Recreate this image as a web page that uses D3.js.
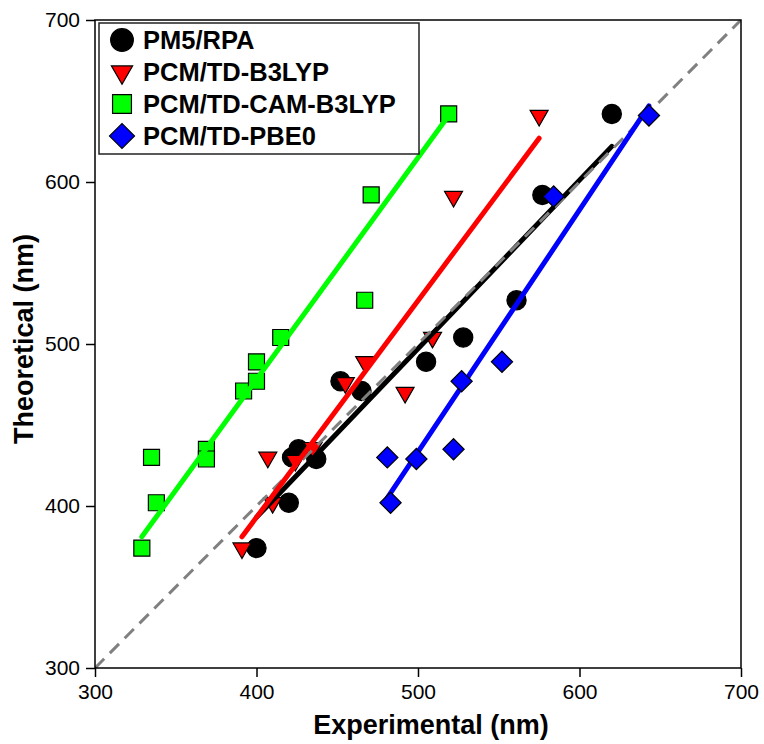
<!DOCTYPE html>
<html>
<head>
<meta charset="utf-8">
<script src="https://cdn.jsdelivr.net/npm/d3@7"></script>
<style>
  html, body { margin: 0; padding: 0; background: #fff; }
  svg { display: block; font-family: "Liberation Sans", Arial, sans-serif; }
</style>
</head>
<body>
<svg id="chart" width="764" height="744"></svg>
<script>
// experimental (x) / theoretical (y) pairs for each method
const pm5Exp  = [400, 420, 422, 426, 437, 452, 465, 505, 528, 561, 577, 620];
const pm5Theo = [374, 402, 430, 435, 429, 477, 471, 489, 504, 527, 592, 642];

const b3lypExp  = [391, 410, 407, 424, 435, 455, 467, 492, 509, 522, 575];
const b3lypTheo = [374, 402, 430, 428, 436, 476, 489, 470, 504, 591, 641];

const camExp  = [329, 338, 335, 369, 369, 392, 400, 400, 415, 467, 471, 519];
const camTheo = [374, 402, 430, 435, 429, 471, 477, 489, 504, 527, 592, 642];

const pbe0Exp  = [483, 481, 499, 522, 527, 552, 584, 643];
const pbe0Theo = [402, 430, 429, 435, 477, 489, 591, 641];

// linear fit lines: [x start, y start, x end, y end]
const pm5Fit   = [400, 393, 620, 622];
const b3lypFit = [391, 381, 575, 627];
const camFit   = [329, 381, 519, 641];
const pbe0Fit  = [481, 405, 643, 647];

const seriesNames = ["PM5/RPA", "PCM/TD-B3LYP", "PCM/TD-CAM-B3LYP", "PCM/TD-PBE0"];
const xTicks = [300, 400, 500, 600, 700];
const yTicks = [300, 400, 500, 600, 700];

const svg = d3.select("#chart");
const plotL = 95, plotR = 741, plotT = 20, plotB = 668;

const x = d3.scaleLinear().domain([300, 700]).range([plotL, plotR]);
const y = d3.scaleLinear().domain([300, 700]).range([plotB, plotT]);

const series = [
  { name: seriesNames[0], xs: pm5Exp, ys: pm5Theo, fit: pm5Fit, color: "#000000", shape: "circle" },
  { name: seriesNames[1], xs: b3lypExp, ys: b3lypTheo, fit: b3lypFit, color: "#ff0000", shape: "triangle" },
  { name: seriesNames[2], xs: camExp, ys: camTheo, fit: camFit, color: "#00ff00", shape: "square" },
  { name: seriesNames[3], xs: pbe0Exp, ys: pbe0Theo, fit: pbe0Fit, color: "#0000ff", shape: "diamond" }
];

function symbolPath(shape, scale) {
  const s = scale || 1;
  if (shape === "circle") return d3.symbol(d3.symbolCircle, 290 * s * s)();
  if (shape === "square") return d3.symbol(d3.symbolSquare, 256 * s * s)();
  if (shape === "triangle") return d3.symbol(d3.symbolTriangle, 140 * s * s)();
  return d3.symbol(d3.symbolSquare, 225 * s * s)();
}
function symbolRotate(shape) {
  if (shape === "triangle") return " rotate(180)";
  if (shape === "diamond") return " rotate(45)";
  return "";
}

const line = d3.line().x(d => x(d[0])).y(d => y(d[1]));

function drawMarkers(s) {
  svg.append("g").selectAll("path")
    .data(s.xs.map((v, i) => [v, s.ys[i]]))
    .join("path")
    .attr("d", symbolPath(s.shape))
    .attr("transform", d => `translate(${x(d[0])},${y(d[1])})` + symbolRotate(s.shape))
    .attr("fill", s.color)
    .attr("stroke", "#000")
    .attr("stroke-width", 1.2);
}
function drawFit(s) {
  const f = s.fit;
  svg.append("path")
    .attr("d", line([[f[0], f[1]], [f[2], f[3]]]))
    .attr("fill", "none")
    .attr("stroke", s.color)
    .attr("stroke-width", 5)
    .attr("stroke-linecap", "round");
}

svg.append("defs").append("clipPath").attr("id", "plot")
  .append("rect").attr("x", plotL).attr("y", plotT).attr("width", plotR - plotL).attr("height", plotB - plotT);

// markers first, fits on top (blue markers sit over its fit)
drawMarkers(series[0]);
drawMarkers(series[1]);
drawMarkers(series[2]);
drawFit(series[0]);

// 1:1 line
svg.append("path")
  .attr("d", line([[300, 300], [700, 700]]))
  .attr("clip-path", "url(#plot)")
  .attr("stroke", "#808080")
  .attr("stroke-width", 3)
  .attr("stroke-dasharray", "13,8")
  .attr("fill", "none");

drawFit(series[1]);
drawFit(series[2]);
drawFit(series[3]);
drawMarkers(series[3]);

// frame
svg.append("rect")
  .attr("x", plotL).attr("y", plotT)
  .attr("width", plotR - plotL).attr("height", plotB - plotT)
  .attr("fill", "none").attr("stroke", "#000").attr("stroke-width", 1.5);

// axes
const xAxis = svg.append("g")
  .attr("transform", `translate(0,${plotB})`)
  .call(d3.axisBottom(x).tickValues(xTicks).tickSize(9).tickPadding(7).tickFormat(d3.format("d")));
const yAxis = svg.append("g")
  .attr("transform", `translate(${plotL},0)`)
  .call(d3.axisLeft(y).tickValues(yTicks).tickSize(9).tickPadding(6).tickFormat(d3.format("d")));
[xAxis, yAxis].forEach(g => {
  g.select(".domain").remove();
  g.selectAll(".tick line").attr("stroke", "#000").attr("stroke-width", 1.5);
  g.selectAll(".tick text").attr("font-size", 21).attr("font-family", "Liberation Sans, Arial, sans-serif").attr("fill", "#000");
});

// axis titles
svg.append("text")
  .attr("x", 431).attr("y", 734)
  .attr("text-anchor", "middle")
  .attr("font-size", 27).attr("font-weight", "bold")
  .text("Experimental (nm)");
svg.append("text")
  .attr("transform", "translate(33,339) rotate(-90)")
  .attr("text-anchor", "middle")
  .attr("font-size", 27).attr("font-weight", "bold")
  .text("Theoretical (nm)");

// legend
const legend = svg.append("g");
legend.append("rect")
  .attr("x", 99).attr("y", 23).attr("width", 320).attr("height", 131)
  .attr("fill", "#fff").attr("stroke", "#222").attr("stroke-width", 1.5);
series.forEach((s, i) => {
  const cy = 40 + i * 32;
  legend.append("path")
    .attr("d", symbolPath(s.shape, 1.18))
    .attr("transform", `translate(122,${cy})` + symbolRotate(s.shape))
    .attr("fill", s.color).attr("stroke", "#000").attr("stroke-width", 1.2);
  legend.append("text")
    .attr("x", 143).attr("y", cy + 9)
    .attr("font-size", 25.5).attr("font-weight", "bold")
    .text(s.name);
});
</script>
</body>
</html>
